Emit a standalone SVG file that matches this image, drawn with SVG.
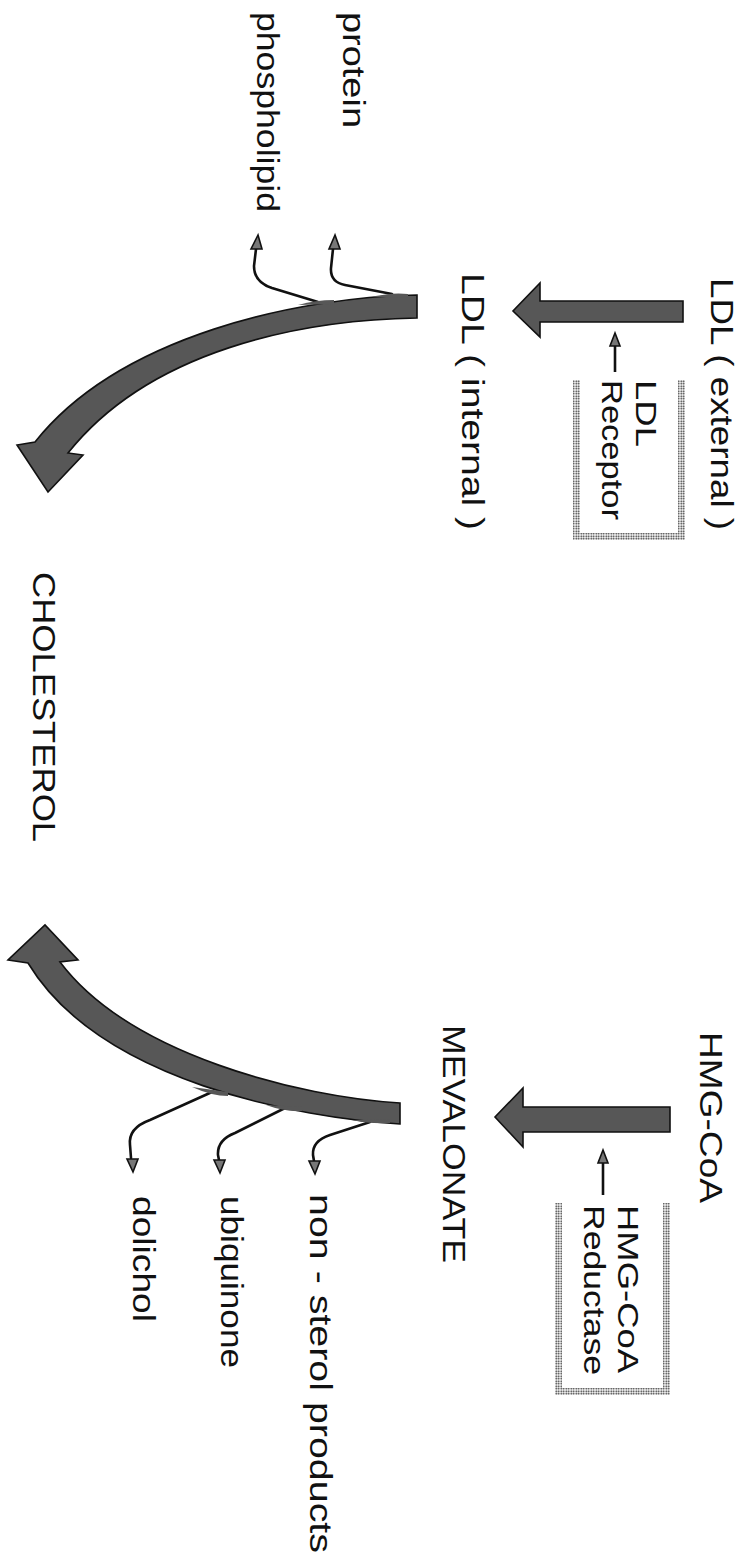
<svg xmlns="http://www.w3.org/2000/svg" width="746" height="1564" viewBox="0 0 746 1564">
<defs>
<pattern id="dots" width="2.5" height="2.5" patternUnits="userSpaceOnUse">
<rect width="2.5" height="2.5" fill="#fff"/>
<circle cx="1.25" cy="1.25" r="0.85" fill="#222"/>
</pattern>
<style>
text{font-family:"Liberation Sans",Arial,sans-serif;fill:#111;}
.big{font-size:32px;}
.mid{font-size:30px;}
.arrow{fill:#575757;stroke:#111;stroke-width:1.6;stroke-linejoin:miter;}
.wedge{fill:#575757;stroke:none;}
.branch{fill:none;stroke:#111;stroke-width:2.6;stroke-linecap:round;}
.bhead{fill:#777;stroke:#111;stroke-width:1.6;}
.thin{fill:none;stroke:#111;stroke-width:2.6;}
.band{fill:url(#dots);}
</style>
</defs>
<rect width="746" height="1564" fill="#fff"/>

<g id="ldl-external"><text class="big" transform="translate(711,278) rotate(90)" textLength="252" lengthAdjust="spacingAndGlyphs">LDL ( external )</text></g>
<g id="ldl-receptor">
<rect class="band" x="678" y="380" width="7" height="160"/>
<rect class="band" x="573" y="380" width="7" height="160"/>
<rect class="band" x="573" y="533" width="112" height="7"/>
<text class="mid" transform="translate(636,380) rotate(90)" textLength="67" lengthAdjust="spacingAndGlyphs">LDL</text>
<text class="mid" transform="translate(602,380) rotate(90)" textLength="140" lengthAdjust="spacingAndGlyphs">Receptor</text>
</g>
<g id="ldl-internal"><text class="big" transform="translate(462,273) rotate(90)" textLength="257" lengthAdjust="spacingAndGlyphs">LDL ( internal )</text></g>
<g id="protein"><text class="big" transform="translate(343,12) rotate(90)" textLength="116" lengthAdjust="spacingAndGlyphs">protein</text></g>
<g id="phospholipid"><text class="big" transform="translate(257,12) rotate(90)" textLength="200" lengthAdjust="spacingAndGlyphs">phospholipid</text></g>
<g id="cholesterol"><text class="big" transform="translate(33,572) rotate(90)" textLength="270" lengthAdjust="spacingAndGlyphs">CHOLESTEROL</text></g>
<g id="hmg-coa"><text class="big" transform="translate(700,1032) rotate(90)" textLength="171" lengthAdjust="spacingAndGlyphs">HMG-CoA</text></g>
<g id="hmg-reductase">
<rect class="band" x="663" y="1203" width="7" height="192"/>
<rect class="band" x="555" y="1203" width="7" height="192"/>
<rect class="band" x="555" y="1388" width="115" height="7"/>
<text class="mid" transform="translate(618,1205) rotate(90)" textLength="168" lengthAdjust="spacingAndGlyphs">HMG-CoA</text>
<text class="mid" transform="translate(584,1205) rotate(90)" textLength="170" lengthAdjust="spacingAndGlyphs">Reductase</text>
</g>
<g id="mevalonate"><text class="big" transform="translate(443,1025) rotate(90)" textLength="238" lengthAdjust="spacingAndGlyphs">MEVALONATE</text></g>
<g id="non-sterol"><text class="big" transform="translate(310,1194) rotate(90)" textLength="359" lengthAdjust="spacingAndGlyphs">non - sterol products</text></g>
<g id="ubiquinone"><text class="big" transform="translate(221,1196) rotate(90)" textLength="172" lengthAdjust="spacingAndGlyphs">ubiquinone</text></g>
<g id="dolichol"><text class="big" transform="translate(133,1196) rotate(90)" textLength="126" lengthAdjust="spacingAndGlyphs">dolichol</text></g>

<g id="connectors">
<path class="arrow" d="M683,301 L540,301 L540,283 L513,311 L540,337 L540,322 L683,322 Z"/>
<line class="thin" x1="615" y1="372" x2="615" y2="344"/>
<path class="bhead" d="M615,333 L610,346 L620,346 Z"/>
<path class="arrow" d="M670,1107 L523,1107 L523,1088 L495,1117 L523,1147 L523,1132 L670,1132 Z"/>
<line class="thin" x1="603" y1="1195" x2="603" y2="1162"/>
<path class="bhead" d="M603,1150 L598,1163 L608,1163 Z"/>
<path class="branch" d="M392,294 L345,285 Q330,282 331,268 L333,249"/>
<path class="bhead" d="M335,235 L329,249 L340,249 Z"/>
<path class="branch" d="M318,302 L272,288 Q254,282 254,266 L256,249"/>
<path class="bhead" d="M258,235 L251,249 L262,249 Z"/>
<path class="arrow" d="M417,295 C300,297 120,335 35,442 L17,445 L48,492 L83,455 L68,453 C150,350 300,320 417,318 Z"/>
<path class="wedge" d="M372,297 Q392,292 408,294 L408,298 Z"/>
<path class="wedge" d="M298,305 Q316,300 334,300 L334,304 Z"/>
<path class="branch" d="M370,1122 L330,1135 Q312,1141 313,1155 L314,1161"/>
<path class="bhead" d="M315,1174 L309,1161 L320,1161 Z"/>
<path class="branch" d="M285,1108 L235,1133 Q217,1140 218,1155 L219,1160"/>
<path class="bhead" d="M220,1173 L214,1160 L225,1160 Z"/>
<path class="branch" d="M212,1092 L150,1120 Q128,1128 130,1145 L131,1158"/>
<path class="bhead" d="M133,1172 L127,1159 L138,1159 Z"/>
<path class="arrow" d="M400,1103 C300,1097 130,1055 60,962 L78,960 L45,925 L8,960 L28,963 C100,1082 300,1118 400,1124 Z"/>
<path class="wedge" d="M352,1120 Q370,1124 390,1123 L390,1119 Z"/>
<path class="wedge" d="M266,1105 Q285,1112 302,1111 L302,1107 Z"/>
<path class="wedge" d="M192,1087 Q212,1096 228,1096 L228,1092 Z"/>
</g>
</svg>
